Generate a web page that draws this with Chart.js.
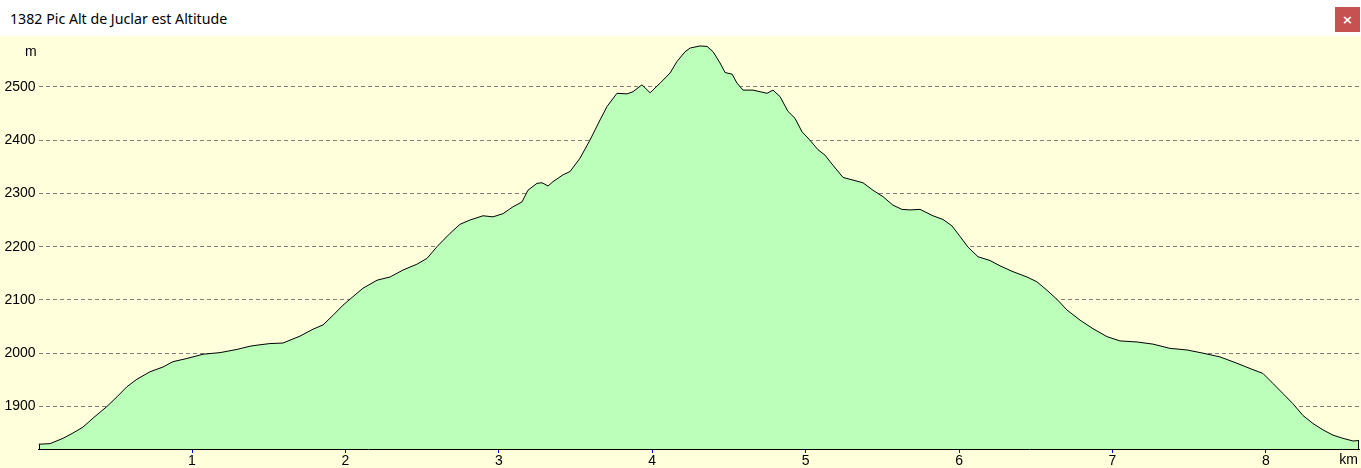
<!DOCTYPE html>
<html><head><meta charset="utf-8">
<script src="https://cdn.jsdelivr.net/npm/chart.js@4.4.0/dist/chart.umd.min.js"></script>
<style>
html,body{margin:0;padding:0;background:#fff;overflow:hidden;width:1361px;height:468px;}
#bar{position:absolute;left:0;top:0;width:1361px;height:36px;background:#fff;}
#title{position:absolute;left:10px;top:9px;font:14.2px "Noto Sans",sans-serif;line-height:20px;color:#000;white-space:nowrap;}
#close{position:absolute;left:1335px;top:7px;width:25px;height:25px;background:#C75050;color:#fff;font:bold 13px "DejaVu Sans",sans-serif;text-align:center;line-height:25px;}
#wrap{position:absolute;left:0;top:36px;width:1361px;height:432px;background:#FFFFDC;}
canvas{display:block;}
</style></head><body>
<div id="bar"><div id="title">1382 Pic Alt de Juclar est Altitude</div><div id="close">×</div></div>
<div id="wrap"><canvas id="c" width="1361" height="432"></canvas></div>
<script>
const distanceKm = [0.0,0.074,0.159,0.224,0.289,0.355,0.446,0.511,0.576,0.641,0.726,0.811,0.876,0.967,1.072,1.183,1.293,1.378,1.424,1.508,1.593,1.704,1.789,1.854,1.919,1.984,2.049,2.115,2.206,2.291,2.375,2.466,2.532,2.597,2.682,2.747,2.812,2.897,2.962,3.028,3.093,3.151,3.190,3.249,3.282,3.321,3.353,3.419,3.464,3.529,3.594,3.660,3.705,3.770,3.836,3.875,3.933,3.986,4.051,4.116,4.162,4.214,4.247,4.312,4.358,4.397,4.442,4.475,4.521,4.553,4.592,4.657,4.748,4.787,4.833,4.885,4.931,4.976,5.028,5.081,5.126,5.178,5.244,5.309,5.374,5.439,5.504,5.569,5.628,5.680,5.746,5.830,5.896,5.954,6.007,6.059,6.124,6.202,6.267,6.352,6.443,6.508,6.574,6.639,6.704,6.789,6.873,6.965,7.049,7.160,7.264,7.375,7.486,7.590,7.701,7.812,7.916,7.981,8.047,8.112,8.177,8.242,8.307,8.372,8.438,8.503,8.569,8.608];
const altitudeM = [1829,1830,1840,1850,1861,1878,1900,1918,1937,1951,1965,1974,1984,1990,1998,2001,2007,2013,2015,2018,2019,2032,2045,2053,2071,2090,2106,2122,2137,2143,2156,2167,2178,2200,2225,2242,2250,2258,2256,2262,2275,2284,2306,2319,2320,2314,2322,2335,2341,2366,2400,2438,2463,2488,2487,2491,2504,2489,2507,2526,2548,2566,2573,2577,2576,2566,2545,2527,2524,2507,2494,2494,2488,2494,2482,2454,2441,2416,2400,2382,2372,2353,2330,2325,2320,2306,2294,2278,2270,2269,2270,2258,2251,2239,2219,2199,2181,2174,2164,2153,2143,2134,2118,2101,2081,2062,2046,2031,2023,2021,2017,2009,2006,2000,1993,1981,1969,1962,1943,1924,1905,1883,1868,1856,1846,1840,1835,1836];
const yTickValues = [1900,2000,2100,2200,2300,2400,2500];
const xTickValues = [1,2,3,4,5,6,7,8];
const yUnit = 'm';
const xUnit = 'km';

const points = distanceKm.map((d,i)=>({x:d,y:altitudeM[i]}));
const tickFont = {family:'"Liberation Sans", Arial, sans-serif', size:14};

const unitsPlugin = {
  id:'units',
  afterDatasetsDraw(chart){
    const ctx = chart.ctx, meta = chart.getDatasetMeta(0), a = chart.chartArea;
    const first = meta.data[0], last = meta.data[meta.data.length-1];
    ctx.save();
    ctx.strokeStyle = '#000'; ctx.lineWidth = 1;
    ctx.beginPath();
    ctx.moveTo(Math.round(first.x)+0.5, first.y); ctx.lineTo(Math.round(first.x)+0.5, a.bottom);
    ctx.moveTo(Math.round(last.x)-0.5, last.y); ctx.lineTo(Math.round(last.x)-0.5, a.bottom);
    ctx.stroke();
    ctx.restore();
  },
  afterDraw(chart){
    const ctx = chart.ctx, a = chart.chartArea;
    ctx.save();
    ctx.fillStyle = '#000';
    ctx.font = '14px "Liberation Sans", Arial, sans-serif';
    ctx.textAlign = 'right'; ctx.textBaseline = 'middle';
    ctx.fillText(yUnit, a.left - 2, a.top + 13);
    ctx.fillText(xUnit, chart.width - 3, a.bottom + 11);
    ctx.restore();
  }
};

new Chart(document.getElementById('c'), {
  type:'line',
  data:{datasets:[{data:points, borderColor:'#000', borderWidth:1, backgroundColor:'#BBFFBB', fill:'start', pointRadius:0, tension:0}]},
  options:{
    responsive:false, animation:false, devicePixelRatio:1,
    layout:{padding:{top:3, right:1.6, left:0, bottom:0}},
    plugins:{legend:{display:false}, tooltip:{enabled:false}, title:{display:false}},
    scales:{
      x:{type:'linear', min:0, max:8.61,
        afterBuildTicks(s){ s.ticks = xTickValues.map(v=>({value:v})); },
        afterFit(s){ s.height = 19; s.paddingLeft = 0; s.paddingRight = 0; },
        grid:{display:true, drawOnChartArea:false, drawTicks:true, tickLength:4, tickColor:'#0000FF', tickWidth:1},
        border:{display:true, color:'#000', width:1},
        ticks:{font:tickFont, color:'#000', padding:0, maxRotation:0, autoSkip:false, callback:v=>String(v)}
      },
      y:{type:'linear', min:1820, max:2590,
        afterBuildTicks(s){ s.ticks = yTickValues.map(v=>({value:v})); },
        afterFit(s){ s.width = 38.6; s.paddingTop = 0; s.paddingBottom = 0; },
        grid:{display:true, drawTicks:false, color:'#808080', lineWidth:1},
        border:{display:false, dash:[4,3]},
        ticks:{font:tickFont, color:'#000', padding:3, callback:v=>String(v)}
      }
    }
  },
  plugins:[unitsPlugin]
});
</script>
</body></html>
